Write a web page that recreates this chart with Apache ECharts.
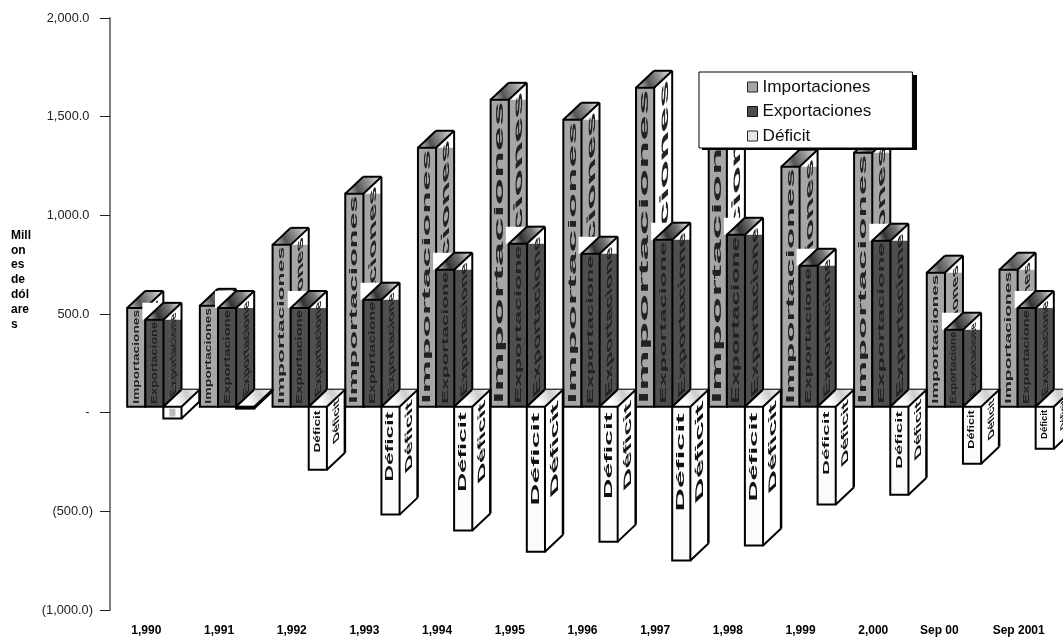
<!DOCTYPE html>
<html><head><meta charset="utf-8">
<style>html,body{margin:0;padding:0;background:#fff}#c{width:1063px;height:639px}</style>
<script src="https://cdn.jsdelivr.net/npm/echarts@6/dist/echarts.min.js"></script>
</head><body><div id="c"></div>
<script>
const categories = ['1,990','1,991','1,992','1,993','1,994','1,995','1,996','1,997','1,998','1,999','2,000','Sep 00','Sep 2001'];
const importaciones = [500,511,820,1079,1312,1555,1454,1616,1575,1216,1287,679,694];
const exportaciones = [440,500,500,542,694,826,775,846,871,714,841,390,500];
const deficit = [-60,-10,-320,-547,-628,-735,-684,-780,-704,-496,-446,-289,-213];
const tickLabels = {'2000':'2,000.0 ','1500':'1,500.0 ','1000':'1,000.0 ','500':'500.0 ','0':'- ','-500':'(500.0)','-1000':'(1,000.0)'};
const yTitle = 'Mill\non\nes\nde\ndól\nare\ns';
const importLabel = 'Importaciones', exportLabel = 'Exportacione', deficitLabel = 'Déficit';
const paleImportSides = ['1,997','1,998'];

const FONT = '"Liberation Sans", Arial, sans-serif';
const DX = 18, DY = 17, LIFT = 6;
const ctx = document.createElement('canvas').getContext('2d');
ctx.font = 'bold 12px ' + FONT;
const natural = t => ctx.measureText(t).width;

// text placed by an arbitrary 2x2 matrix: u = baseline direction, v = "down" direction of the glyphs
function skewText(text, ox, oy, ux, uy, vx, vy, color) {
  const a = ux, b = vx, c = uy, d = vy;
  const E = (a + d) / 2, F = (a - d) / 2, G = (c + b) / 2, H = (c - b) / 2;
  const Q = Math.hypot(E, H), R = Math.hypot(F, G);
  const a1 = Math.atan2(G, F), a2 = Math.atan2(H, E);
  const theta = (a2 - a1) / 2, phi = (a2 + a1) / 2;
  return {
    type: 'group', x: ox, y: oy, rotation: -phi, scaleX: Q + R, scaleY: Q - R, silent: true,
    children: [{
      type: 'text', rotation: -theta, silent: true,
      style: { text, x: 0, y: 0, align: 'left', verticalAlign: 'middle', fill: color, font: 'bold 12px ' + FONT }
    }]
  };
}
const poly = (points, fill, extra) => ({ type: 'polygon', silent: true, shape: { points }, style: Object.assign({ fill, stroke: null }, extra || {}) });
const seg = (x1, y1, x2, y2, w) => ({ type: 'line', silent: true, shape: { x1, y1, x2, y2 }, style: { stroke: '#000', lineWidth: w || 2 } });
const grad = stops => ({ type: 'linear', x: 0, y: 1, x2: 1, y2: 0, colorStops: stops.map((c, i) => ({ offset: i / (stops.length - 1), color: c })) });

function barItem(slot, faceColor, textColor, label, sideColorFn) {
  return function (params, api) {
    const i = api.value(0), v = api.value(1);
    const band = api.size([1, 0])[0], bw = band / 4;
    const c = api.coord([i, v]), zero = api.coord([i, 0]);
    const x0 = c[0] - bw - 1 + slot * bw, x1 = x0 + bw;
    const base = zero[1] - LIFT, y0 = c[1] - LIFT;
    const h = base - y0;
    const sideColor = sideColorFn ? sideColorFn(i) : faceColor;
    const perp = Math.min(1, 0.62 + h / 800);
    const len = h - 5, su = len / natural(label);
    return { type: 'group', children: [
      poly([[x0 - 3, y0 - DY], [x1 + DX, y0 - DY], [x1 + DX, y0], [x0 - 3, y0]], '#fff'),
      poly([[x1, y0], [x1 + DX, y0], [x1 + DX, base - DY], [x1, base]], sideColor),
      skewText(label, x1 + DX / 2 + 1, base - DY / 2 - 3, 0, -su, perp, -perp * 0.94, textColor),
      poly([[x0, y0], [x0 + DX, y0 - DY], [x1 + DX, y0 - DY], [x1, y0]],
        grad(slot === 0 ? ['#d8d8d8', '#555', '#999', '#eee'] : ['#eee', '#333', '#777', '#fff'])),
      seg(x0, y0, x0 + DX, y0 - DY), seg(x0 + DX, y0 - DY, x1 + DX, y0 - DY),
      seg(x1, y0, x1 + DX, y0 - DY), seg(x1 + DX, y0 - DY, x1 + DX, base - DY),
      seg(x1, base, x1 + DX, base - DY),
      { type: 'rect', silent: true, shape: { x: x0, y: y0, width: bw, height: h }, style: { fill: faceColor, stroke: '#000', lineWidth: 2 } },
      skewText(label, (x0 + x1) / 2, base - 3, 0, -su, perp, 0, textColor)
    ]};
  };
}
function deficitItem(params, api) {
  const i = api.value(0), v = api.value(1);
  const band = api.size([1, 0])[0], bw = band / 4;
  const c = api.coord([i, v]), zero = api.coord([i, 0]);
  const x0 = c[0] + 17, x1 = x0 + bw;
  const base = zero[1] - LIFT, y1 = c[1] - LIFT;
  const h = y1 - base;
  const kids = [
    seg(x1, base - DY, c[0] + 54.5, base - DY),
    poly([[x0, base], [x0 + DX, base - DY], [x1 + DX, base - DY], [x1, base]], grad(['#fff', '#fff', '#ccc', '#fff'])),
    poly([[x1, base], [x1 + DX, base - DY], [x1 + DX, y1 - DY], [x1, y1]], '#fff'),
    seg(x0, base, x0 + DX, base - DY), seg(x1, base, x1 + DX, base - DY),
    seg(x1 + DX, base - DY, x1 + DX, y1 - DY, 2.5), seg(x1, y1, x1 + DX, y1 - DY),
    { type: 'rect', silent: true, shape: { x: x0, y: base, width: bw, height: h }, style: { fill: '#fbfbfb', stroke: '#000', lineWidth: 2 } }
  ];
  if (h > 14) {
    const len = 0.615 * h + 3.2, su = len / natural(deficitLabel);
    const perp = Math.min(0.95, 0.6 + h / 450);
    const start = base + 2 + 0.03 * h + len;
    kids.push(skewText(deficitLabel, (x0 + x1) / 2, start, 0, -su, perp, 0, '#111'));
    kids.push(skewText(deficitLabel, x1 + DX / 2 + 1, start - DY / 2 - 2, 0, -su, perp, -perp * 0.94, '#111'));
  } else if (h > 6) {
    kids.push({ type: 'rect', silent: true, shape: { x: (x0 + x1) / 2 - 3, y: base + 2, width: 6, height: h - 4 }, style: { fill: '#bbb' } });
  }
  return { type: 'group', children: kids };
}
const pairs = arr => arr.map((v, i) => [i, v]);
const chart = echarts.init(document.getElementById('c'), null, { renderer: 'canvas' });
chart.setOption({
  animation: false,
  backgroundColor: '#fff',
  textStyle: { fontFamily: FONT },
  title: { text: yTitle, left: 11, top: 228, padding: 0, textStyle: { fontFamily: FONT, fontSize: 12, fontWeight: 'bold', lineHeight: 14.8, color: '#000' } },
  grid: { left: 110, right: 8, top: 18, bottom: 29, containLabel: false },
  graphic: [{ type: 'rect', z: 3, silent: true, shape: { x: 702, y: 75, width: 215, height: 75 }, style: { fill: '#000' } }],
  xAxis: { type: 'category', data: categories,
    axisLine: { show: false }, axisTick: { show: false },
    axisLabel: { interval: 0, margin: 15, fontSize: 12, fontWeight: 'bold', color: '#000', fontFamily: FONT, hideOverlap: false,
      formatter: v => v === 'Sep 00' ? v + '    ' : v } },
  yAxis: { type: 'value', min: -1000, max: 2000, interval: 500, splitLine: { show: false },
    axisLine: { show: true, onZero: false, lineStyle: { color: '#808080', width: 2 } },
    axisTick: { show: true, length: 10, lineStyle: { color: '#222', width: 1 } },
    axisLabel: { margin: 17, fontSize: 12.8, color: '#222', fontFamily: FONT, formatter: v => tickLabels[String(v)] } },
  legend: { orient: 'vertical', left: 699, top: 72, align: 'left', icon: 'rect', itemWidth: 10, itemHeight: 10, itemGap: 6.5, z: 4,
    padding: [6, 41, 3, 48], backgroundColor: '#fff', borderColor: '#000', borderWidth: 1,
    textStyle: { fontSize: 17.2, color: '#111', fontFamily: FONT, lineHeight: 18 },
    selectedMode: false,
    data: [
      { name: 'Importaciones', itemStyle: { color: '#a6a6a6', borderColor: '#222', borderWidth: 1 } },
      { name: 'Exportaciones', itemStyle: { color: '#4d4d4d', borderColor: '#111', borderWidth: 1 } },
      { name: 'Déficit', itemStyle: { color: '#e6e6e6', borderColor: '#222', borderWidth: 1 } }
    ] },
  series: [
    { type: 'custom', name: 'Importaciones', data: pairs(importaciones), encode: { x: 0, y: 1 }, clip: false, itemStyle: { color: '#a6a6a6' },
      renderItem: barItem(0, '#a6a6a6', '#222', importLabel, i => paleImportSides.includes(categories[i]) ? '#fff' : '#a6a6a6') },
    { type: 'custom', name: 'Exportaciones', data: pairs(exportaciones), encode: { x: 0, y: 1 }, clip: false, itemStyle: { color: '#4d4d4d' },
      renderItem: barItem(1, '#4f4f4f', '#222', exportLabel) },
    { type: 'custom', name: 'Déficit', data: pairs(deficit), encode: { x: 0, y: 1 }, clip: false, itemStyle: { color: '#e6e6e6' },
      renderItem: deficitItem }
  ]
});
</script></body></html>
